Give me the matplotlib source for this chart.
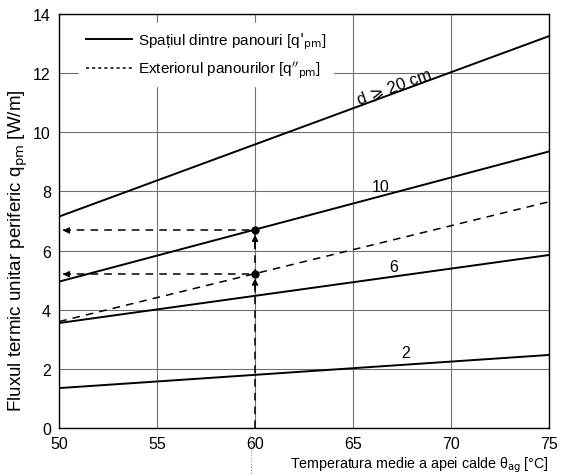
import numpy as np
import matplotlib.pyplot as plt
from matplotlib.lines import Line2D

plt.rcParams['font.family'] = ['Liberation Sans', 'DejaVu Sans']

# date citite din diagrama
temp = [50, 75]
q_20 = [7.15, 13.25]
q_10 = [4.95, 9.35]
q_6 = [3.55, 5.85]
q_2 = [1.35, 2.47]
q_ext = [3.6, 7.65]

t_citit = 60
q_citit = [6.68, 5.2]

fig = plt.figure(figsize=(5.63, 4.77), dpi=100)
ax = fig.add_axes([0.105, 0.1006, 0.870, 0.868])

# grila
ax.set_xlim(50, 75)
ax.set_ylim(0, 14)
ax.set_xticks([50, 55, 60, 65, 70, 75])
ax.set_yticks(np.arange(0, 15, 2))
ax.grid(True, color='#707070', lw=0.8)
ax.tick_params(length=0, labelsize=11.5, pad=6)
for s in ax.spines.values():
    s.set_linewidth(1.0)

# curbele
for q in [q_20, q_10, q_6, q_2]:
    ax.plot(temp, q, c='black', lw=1.4, zorder=3)
ax.plot(temp, q_ext, c='black', lw=1.1, ls=(0, (5, 4)), zorder=3)

# citirea pentru 60 C
for q in q_citit:
    ax.plot([50.2, t_citit], [q, q], c='black', lw=1.1, ls=(0, (5, 4)), zorder=3)
    ax.annotate('', xy=(50.05, q), xytext=(50.7, q),
                arrowprops=dict(arrowstyle='-|>', color='black', lw=1, mutation_scale=9))
    ax.annotate('', xy=(t_citit, q - 0.05), xytext=(t_citit, q - 0.7),
                arrowprops=dict(arrowstyle='-|>', color='black', lw=1, mutation_scale=9))
    ax.plot(t_citit, q, 'o', c='black', ms=5, zorder=4)
ax.plot([t_citit, t_citit], [0, q_citit[0]], c='black', lw=1.1, ls=(0, (5, 4)), zorder=3)
ax.plot([59.8, 59.8], [-0.4, -1.6], c='#999999', lw=0.8, ls=':', clip_on=False)

# etichete curbe
ax.text(67.1, 11.55, 'd ⩾ 20 cm', fontsize=12, rotation=20, ha='center', va='center')
ax.text(66.4, 8.15, '10', fontsize=11.5, ha='center', va='center')
ax.text(67.1, 5.45, '6', fontsize=11.5, ha='center', va='center')
ax.text(67.7, 2.55, '2', fontsize=11.5, ha='center', va='center')

# legenda
h = [Line2D([], [], c='black', lw=1.4),
     Line2D([], [], c='black', lw=1.1, ls=(0, (2, 2)))]
leg = ax.legend(h, ["Spațiul dintre panouri [q$'_{\\rm pm}$]",
                    "Exteriorul panourilor [q$''_{\\rm pm}$]"],
                loc='upper left', bbox_to_anchor=(0.025, 0.996), frameon=True,
                fontsize=11, handlelength=3.0, borderpad=0.45, labelspacing=0.5,
                handletextpad=0.4)
leg.get_frame().set_edgecolor('white')
leg.get_frame().set_alpha(1)
leg.get_frame().set_boxstyle('square', pad=0)

ax.set_ylabel('Fluxul termic unitar periferic q$_{\\rm pm}$ [W/m]', fontsize=13.5)
ax.yaxis.set_label_coords(-0.083, 0.43)
ax.yaxis.label.set_va('center')
ax.set_xlabel('Temperatura medie a apei calde θ$_{\\rm ag}$ [°C]', fontsize=10.3)
ax.xaxis.set_label_coords(1.0, -0.087)
ax.xaxis.label.set_ha('right')
ax.xaxis.label.set_va('center')

plt.savefig('out.png')
